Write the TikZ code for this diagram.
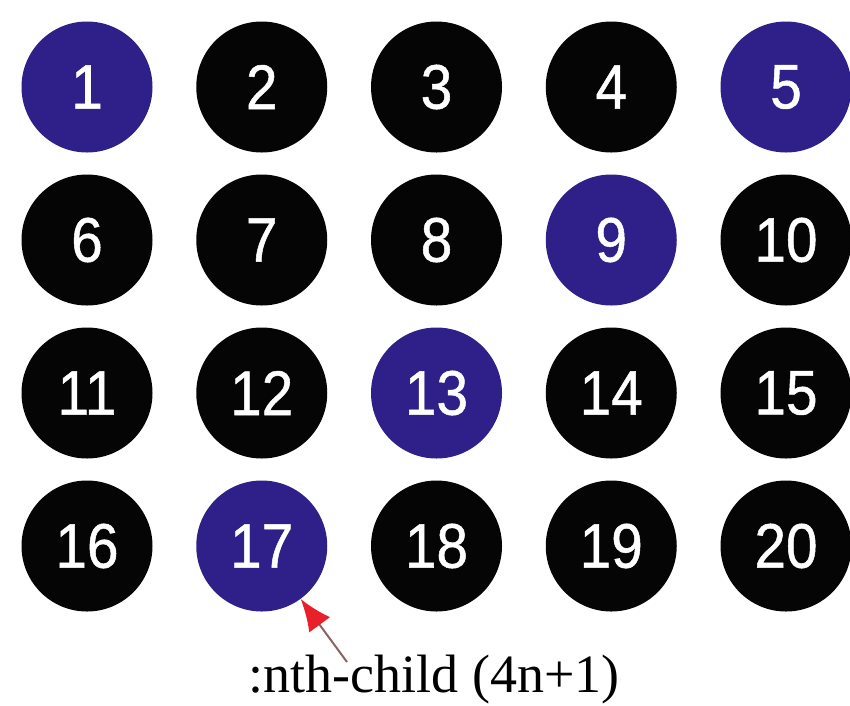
\documentclass[tikz,border=0pt]{standalone}
\usepackage{fontspec}
\setmainfont{Liberation Serif}
\newfontfamily\numfont[FakeStretch=0.9,FakeBold=0.8]{Liberation Sans}
\usetikzlibrary{arrows.meta}
\definecolor{selblue}{HTML}{2E2088}
\definecolor{dotblack}{HTML}{050505}
\definecolor{shaftgray}{HTML}{8A6464}
\definecolor{tipred}{HTML}{E8202A}
\tikzset{
  dot/.style={circle, minimum size=131pt, inner sep=0pt, fill=dotblack, text=white,
    font=\numfont\fontsize{63}{66}\selectfont},
  seldot/.style={dot, fill=selblue},
  caption/.style={font=\fontsize{54}{60}\selectfont, anchor=base, inner sep=0pt},
  pointer/.style={draw=shaftgray, line width=2pt, -{Latex[length=32pt,width=26pt,color=tipred]}}
}
\begin{document}
\begin{tikzpicture}[x=1pt,y=-1pt]
\useasboundingbox (0,0) rectangle (850,705);
\foreach \r in {0,1,2,3}{
  \foreach \c in {1,...,5}{
    \pgfmathtruncatemacro{\k}{\r*5+\c}
    \pgfmathtruncatemacro{\m}{mod(\k-1,4)}
    \pgfmathsetmacro{\xx}{87+174.75*(\c-1)}
    \pgfmathsetmacro{\yy}{87+153*\r}
    \ifnum\m=0
      \node[seldot] (n\k) at (\xx,\yy) {\k};
    \else
      \node[dot] (n\k) at (\xx,\yy) {\k};
    \fi
  }
}
\node[caption] (cap) at (434,692) {:nth-child (4n+1)};
\coordinate (tail) at (347,662);
\draw[pointer] (tail) -- (n17);
\end{tikzpicture}
\end{document}
